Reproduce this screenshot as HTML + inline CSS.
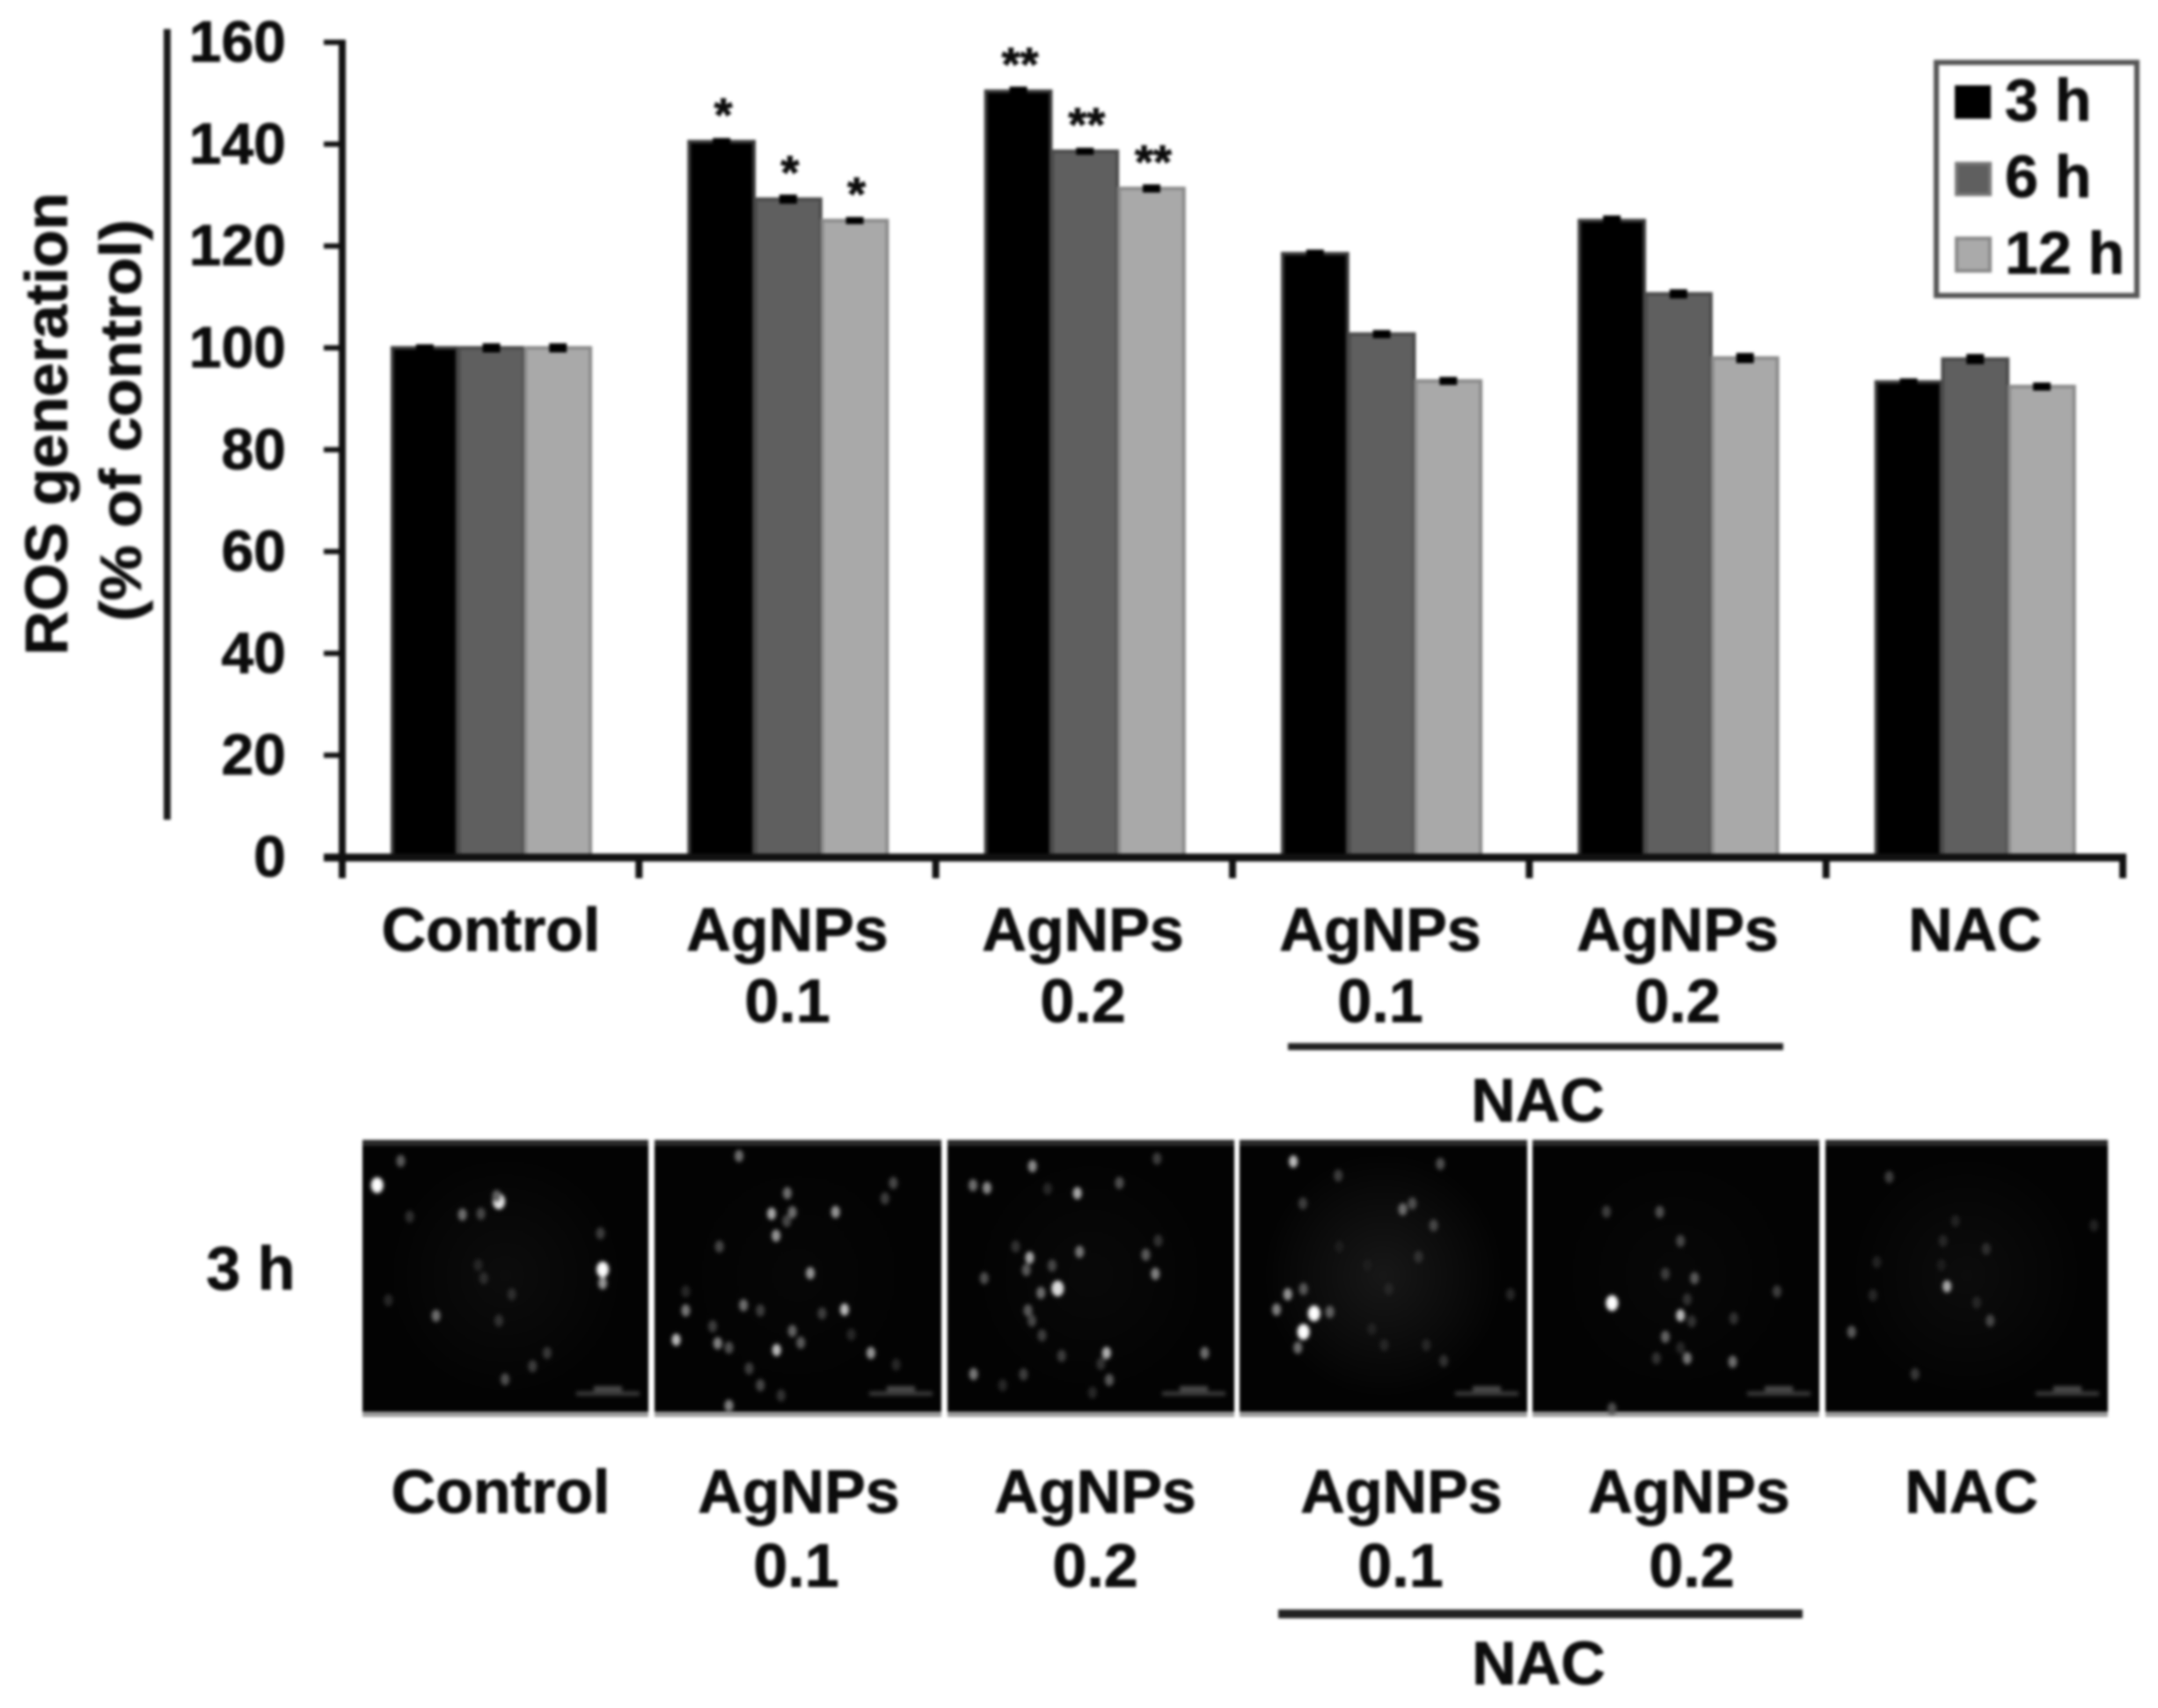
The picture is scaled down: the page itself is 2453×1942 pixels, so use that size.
<!DOCTYPE html>
<html lang="en">
<head>
<meta charset="utf-8">
<title>ROS generation chart</title>
<style>
html,body{margin:0;padding:0;background:#fff;}
#root{display:block;width:2453px;height:1942px;filter:blur(1.5px);}
text{font-family:"Liberation Sans",Arial,sans-serif;font-weight:bold;fill:#0c0c0c;stroke:#0c0c0c;stroke-width:0.8px;}
.lab{font-size:70px;text-anchor:middle;}
.tick{font-size:66px;text-anchor:end;}
</style>
</head>
<body>
<svg id="root" xmlns="http://www.w3.org/2000/svg" width="2453" height="1942" viewBox="0 0 2453 1942">
  <defs>
    <filter id="soft" x="-50%" y="-50%" width="200%" height="200%"><feGaussianBlur stdDeviation="1.8"/></filter>
    <radialGradient id="haze"><stop offset="0" stop-color="#fff" stop-opacity="0.09"/><stop offset="1" stop-color="#fff" stop-opacity="0"/></radialGradient>
  </defs>
  <rect width="2453" height="1942" fill="#fff"/>

  <text transform="translate(76 482) rotate(-90)" font-size="68" text-anchor="middle" textLength="526" lengthAdjust="spacingAndGlyphs">ROS generation</text>
  <text transform="translate(160 478) rotate(-90)" font-size="66" text-anchor="middle" textLength="457" lengthAdjust="spacingAndGlyphs">(% of control)</text>
  <rect x="186" y="33" width="8" height="899" fill="#1a1a1a"/>

  <g id="chart"></g>

  <g>
    <rect x="2201" y="71" width="228" height="265" fill="#fff" stroke="#555" stroke-width="6"/>
    <rect x="2222" y="97" width="41" height="38" fill="#000"/>
    <text x="2279" y="137" font-size="68">3 h</text>
    <rect x="2224" y="186" width="38" height="35" fill="#5f5f5f" stroke="#777" stroke-width="4"/>
    <text x="2279" y="224" font-size="68">6 h</text>
    <rect x="2224" y="271" width="38" height="37" fill="#aaa" stroke="#888" stroke-width="4"/>
    <text x="2279" y="311" font-size="68">12 h</text>
  </g>

  <g>
    <text class="lab" x="558" y="1081">Control</text>
    <text class="lab" x="895" y="1081">AgNPs</text>
    <text class="lab" x="895" y="1162">0.1</text>
    <text class="lab" x="1231" y="1081">AgNPs</text>
    <text class="lab" x="1231" y="1162">0.2</text>
    <text class="lab" x="1569" y="1081">AgNPs</text>
    <text class="lab" x="1569" y="1162">0.1</text>
    <text class="lab" x="1907" y="1081">AgNPs</text>
    <text class="lab" x="1907" y="1162">0.2</text>
    <text class="lab" x="2245" y="1081">NAC</text>
    <rect x="1464" y="1186" width="563" height="8" fill="#222"/>
    <text class="lab" x="1748" y="1275">NAC</text>
  </g>

  <text class="lab" x="285" y="1466" font-size="66">3 h</text>
  <g id="micrographs"></g>

  <g>
    <text class="lab" x="569" y="1720">Control</text>
    <text class="lab" x="908" y="1720">AgNPs</text>
    <text class="lab" x="905" y="1804">0.1</text>
    <text class="lab" x="1245" y="1720">AgNPs</text>
    <text class="lab" x="1245" y="1804">0.2</text>
    <text class="lab" x="1593" y="1720">AgNPs</text>
    <text class="lab" x="1592" y="1804">0.1</text>
    <text class="lab" x="1920" y="1720">AgNPs</text>
    <text class="lab" x="1923" y="1804">0.2</text>
    <text class="lab" x="2241" y="1720">NAC</text>
    <rect x="1453" y="1830" width="596" height="10" fill="#222"/>
    <text class="lab" x="1749" y="1915">NAC</text>
  </g>
</svg>
<script>
var categories = ['Control', 'AgNPs 0.1', 'AgNPs 0.2', 'AgNPs 0.1 + NAC', 'AgNPs 0.2 + NAC', 'NAC'];
var seriesNames = ['3h', '6h', '12h'];
var values3h = [100, 140.5, 150.4, 118.5, 125, 93.3];
var values6h = [100, 129.2, 138.6, 102.7, 110.6, 97.8];
var values12h = [100, 125, 131.3, 93.5, 98, 92.4];
var errors3h = [0.7, 0.7, 0.9, 0.8, 1, 0.7];
var errors6h = [0.9, 0.9, 0.7, 0.8, 0.9, 1];
var errors12h = [0.9, 0.7, 0.8, 0.8, 1, 0.8];
var marks3h = ['', '*', '**', '', '', ''];
var marks6h = ['', '*', '**', '', '', ''];
var marks12h = ['', '*', '**', '', '', ''];
var yTicks = [0, 20, 40, 60, 80, 100, 120, 140, 160];

var NS = 'http://www.w3.org/2000/svg';
var chart = document.getElementById('chart');
var AX_X = 389, AX_Y = 974.5, AX_END = 2413, Y_UNIT = 5.79;
var CAT_W = (AX_END - AX_X) / categories.length;
var BAR_W = 75.7, GROUP_OFF = 56;
var fills = ['#000000', '#5f5f5f', '#a9a9a9'];
var edges = ['#3a3a3a', '#4a4a4a', '#8a8a8a'];
var allValues = [values3h, values6h, values12h];
var allErrors = [errors3h, errors6h, errors12h];
var allMarks = [marks3h, marks6h, marks12h];

function yPos(v) { return AX_Y - v * Y_UNIT; }
function catX(i) { return AX_X + i * CAT_W; }
function barX(i, s) { return catX(i) + GROUP_OFF + s * BAR_W; }
function rect(parent, x, y, w, h, fill) {
  var r = document.createElementNS(NS, 'rect');
  r.setAttribute('x', x);
  r.setAttribute('y', y);
  r.setAttribute('width', w);
  r.setAttribute('height', h);
  r.setAttribute('fill', fill);
  parent.appendChild(r);
  return r;
}

categories.forEach(function (cat, i) {
  seriesNames.forEach(function (name, s) {
    var v = allValues[s][i];
    var bar = rect(chart, barX(i, s) + 1, yPos(v), BAR_W - 2, AX_Y - yPos(v), fills[s]);
    bar.setAttribute('stroke', edges[s]);
    bar.setAttribute('stroke-width', '4');
    
    
    var e = allErrors[s][i];
    var err = rect(chart, barX(i, s) + BAR_W / 2 - 10, yPos(v + e), 20, 2 * e * Y_UNIT, '#000');
    
    
    var m = allMarks[s][i];
    if (m) {
      var t = document.createElementNS(NS, 'text');
      t.textContent = m;
      t.setAttribute('x', barX(i, s) + BAR_W / 2 + 2);
      t.setAttribute('y', yPos(v) - 12);
      t.setAttribute('font-size', '54');
      t.setAttribute('text-anchor', 'middle');
      
      
      chart.appendChild(t);
    }
  });
});

var yAxis = rect(chart, AX_X - 4, yPos(160) - 3, 8, AX_Y - yPos(160) + 6, '#111');


var xAxis = rect(chart, AX_X - 21, AX_Y - 4, AX_END - AX_X + 25, 9, '#111');



yTicks.forEach(function (tv) {
  var tk = rect(chart, AX_X - 21, yPos(tv) - 3, 21, 6, '#111');
  
  
  var lb = document.createElementNS(NS, 'text');
  lb.textContent = tv;
  lb.setAttribute('class', 'tick');
  lb.setAttribute('x', 325);
  lb.setAttribute('y', yPos(tv) + 22);
  
  
  chart.appendChild(lb);
});

for (var k = 0; k <= categories.length; k++) {
  var xt = rect(chart, catX(k) - 4, AX_Y, 8, 24, '#111');
  
  
}

/* micrograph panels: fluorescent spots [x, y, brightness] in panel-strip coordinates */
var panelBoxes = [
  ['control', 412, 325, 400],
  ['agnps-01', 744, 326, 400],
  ['agnps-02', 1077, 326, 400],
  ['agnps-01-nac', 1409, 327, 1400],
  ['agnps-02-nac', 1742, 326, 1400],
  ['nac', 2075, 321, 1400]
];
var panelHaze = [0.4, 0.15, 0.25, 0.9, 0.2, 0.4];
var panelSpots = [
  [[45,203,255],[87,120,90],[262,258,230],[258,240,100],[197,303,110],[230,300,70],[443,367,60],[447,490,255],[447,537,150],[150,648,110],[65,595,40],[285,575,45],[235,520,45],[262,665,50],[348,775,55],[322,820,60],[273,865,80],[103,310,45],[225,475,40]],
  [[690,103,110],[965,195,70],[776,230,110],[950,248,60],[748,300,170],[785,295,110],[775,325,70],[862,294,150],[756,375,150],[655,412,70],[817,503,150],[595,630,120],[698,612,110],[728,630,60],[878,627,190],[838,640,60],[643,684,60],[785,700,100],[578,730,190],[652,742,130],[672,757,80],[800,740,90],[757,765,190],[925,775,150],[708,828,60],[728,885,70],[765,920,50],[672,955,130],[970,815,40],[890,712,40],[595,565,40]],
  [[1213,138,140],[1435,112,60],[1107,203,110],[1132,212,140],[1293,230,170],[1368,195,80],[1240,215,40],[1297,430,120],[1208,450,170],[1183,412,50],[1415,440,90],[1437,392,50],[1202,492,90],[1248,477,70],[1127,520,80],[1432,505,130],[1258,555,220],[1228,570,110],[1205,630,90],[1212,665,70],[1230,715,60],[1345,775,180],[1520,775,110],[1108,847,120],[1197,848,60],[1350,867,90],[1335,812,50],[1265,785,60],[1160,885,40],[1320,910,40]],
  [[110,122,190],[372,130,80],[190,170,60],[127,265,60],[305,285,110],[322,265,80],[360,340,70],[333,447,50],[100,575,150],[128,557,90],[80,627,130],[147,640,255],[175,635,100],[128,703,255],[118,757,110],[497,575,40],[280,557,40],[250,693,35],[272,748,40],[347,748,40],[378,802,50],[242,475,30],[192,412,30]],
  [[668,293,60],[763,294,80],[800,393,70],[773,505,60],[825,520,90],[972,565,60],[678,605,255],[812,592,50],[800,647,190],[820,667,50],[895,657,50],[773,720,100],[812,793,120],[893,805,110],[757,793,50],[800,757,40],[678,965,80]],
  [[1172,175,60],[1290,325,35],[1268,393,40],[1345,420,45],[1275,548,170],[1143,578,40],[1328,603,40],[1352,665,70],[1105,703,90],[1218,847,55],[1537,340,35],[1150,465,35],[1265,475,30]]
];
var micro = document.getElementById('micrographs');
panelBoxes.forEach(function (box, p) {
  var g = document.createElementNS(NS, 'g');
  
  
  micro.appendChild(g);
  var px = box[1], pw = box[2], origin = box[3];
  rect(g, px, 1296, pw, 315, '#030303');
  rect(g, px, 1296, pw, 7, '#2a2a2a');
  rect(g, px, 1605, pw, 6, '#9a9a9a');
  var h = document.createElementNS(NS, 'ellipse');
  h.setAttribute('cx', px + pw * 0.5);
  h.setAttribute('cy', 1450);
  h.setAttribute('rx', pw * 0.42);
  h.setAttribute('ry', 140);
  h.setAttribute('fill', 'url(#haze)');
  h.setAttribute('opacity', panelHaze[p]);
  g.appendChild(h);
  var spots = document.createElementNS(NS, 'g');
  spots.setAttribute('filter', 'url(#soft)');
  g.appendChild(spots);
  panelSpots[p].forEach(function (s) {
    var c = document.createElementNS(NS, 'ellipse');
    var b = s[2];
    c.setAttribute('cx', s[0] / 1.568 + origin);
    c.setAttribute('cy', s[1] / 3 + 1280);
    c.setAttribute('rx', b > 200 ? 7 : 5);
    c.setAttribute('ry', b > 200 ? 9 : 7);
    c.setAttribute('fill', 'rgb(' + b + ',' + b + ',' + b + ')');
    spots.appendChild(c);
  });
  rect(spots, px + pw - 82, 1582, 72, 5, '#3a3a3a');
  rect(spots, px + pw - 62, 1576, 32, 6, '#4a4a4a');
});
</script>
</body>
</html>
